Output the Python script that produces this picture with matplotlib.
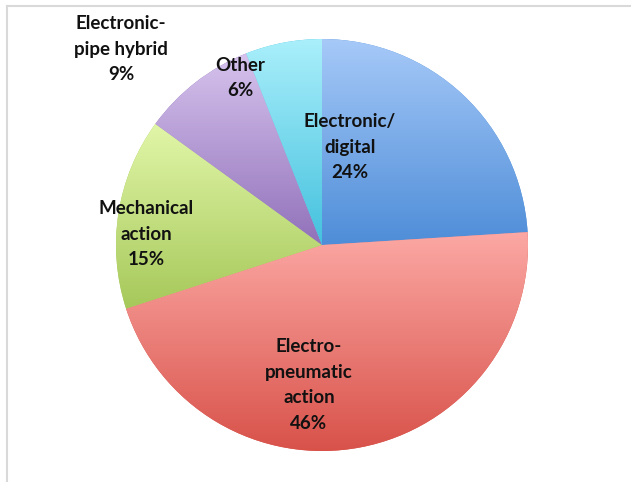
import numpy as np
import matplotlib
matplotlib.use("Agg")
import matplotlib.pyplot as plt
from matplotlib.colors import LinearSegmentedColormap

# organ action types, clockwise from 12 o'clock
labels = ["Electronic/\ndigital", "Electro-\npneumatic\naction", "Mechanical\naction",
          "Electronic-\npipe hybrid", "Other"]
shares = [24, 46, 15, 9, 6]

# (top colour, bottom colour) of each slice's vertical gradient
top_colors = ["#a6c9f8", "#fca8a4", "#e1f6a8", "#d6c3ed", "#aaeffb"]
bottom_colors = ["#4e8dd8", "#d8524a", "#a6c85a", "#9171ba", "#44c1de"]

# label centres in figure pixels (x, y from top)
label_pos = [(350, 147), (309, 385), (146, 234), (121, 49), (240, 78)]

W, H = 631, 482
fig = plt.figure(figsize=(W / 100, H / 100), dpi=100)
ax = fig.add_axes([0, 0, 1, 1])

cx, cy, r = 322, H - 245, 206
wedges, _ = ax.pie(shares, startangle=90, counterclock=False, radius=r,
                   center=(cx, cy), frame=True,
                   wedgeprops=dict(linewidth=0))
ax.set_xlim(0, W)
ax.set_ylim(0, H)
ax.set_aspect("equal")
ax.axis("off")

# fill each wedge with a top-to-bottom gradient clipped to its outline
grad = np.linspace(1, 0, 256).reshape(-1, 1)
inv = ax.transData.inverted()
for w, c0, c1 in zip(wedges, top_colors, bottom_colors):
    w.set_facecolor(c1)
    bb = w.get_window_extent()
    (x0, y0), (x1, y1) = inv.transform([[bb.x0, bb.y0], [bb.x1, bb.y1]])
    cmap = LinearSegmentedColormap.from_list("g", [c1, c0])
    im = ax.imshow(grad, cmap=cmap, extent=(x0, x1, y0, y1), origin="upper",
                   aspect="auto", interpolation="bilinear", zorder=w.get_zorder() + 0.1)
    im.set_clip_path(w)

for (lx, ly), lab, s in zip(label_pos, labels, shares):
    ax.text(lx, H - ly, f"{lab}\n{s}%", ha="center", va="center",
            fontsize=13.5, fontfamily="Lato", fontweight="bold",
            linespacing=1.6, color="#111111", zorder=10)

# thin grey frame along the top and left edges
ax.plot([6.5, W], [H - 5.5, H - 5.5], color="#d9d9d9", lw=1.5, zorder=11)
ax.plot([6.5, 6.5], [0, H - 5.5], color="#d9d9d9", lw=1.5, zorder=11)

fig.savefig("out.png", dpi=100)
